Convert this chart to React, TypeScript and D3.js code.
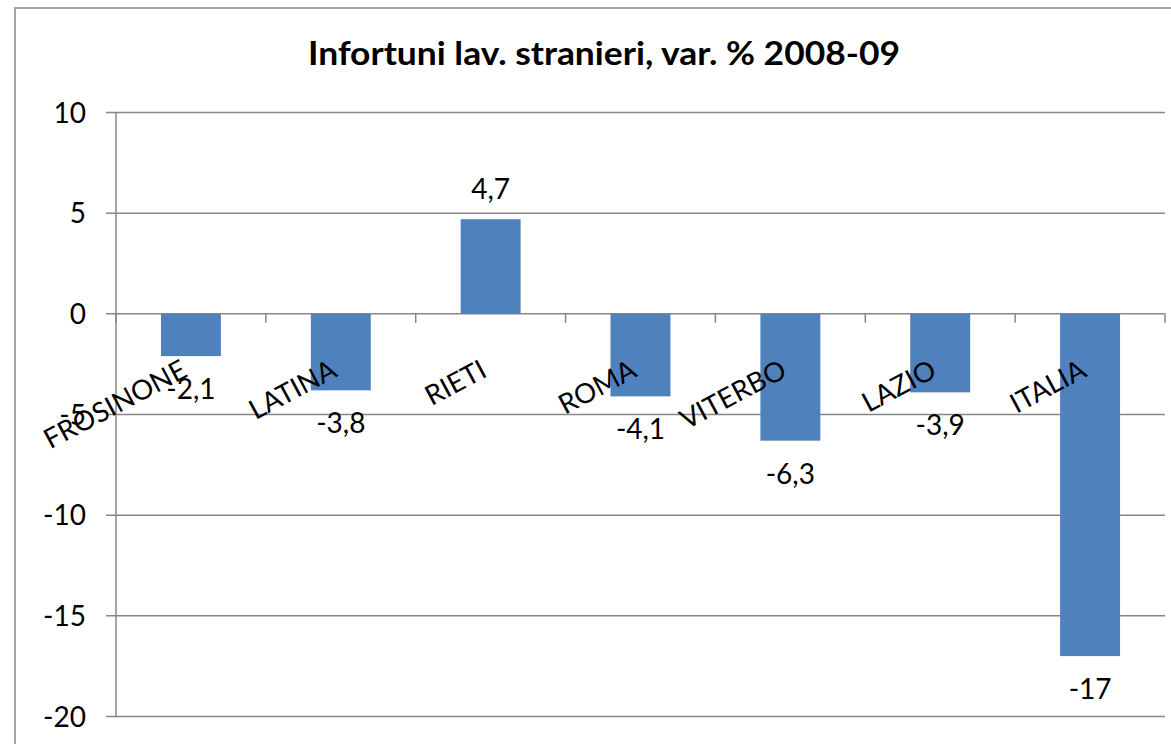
import React from "react";
import * as d3 from "d3";

const categories: string[] = ["FROSINONE", "LATINA", "RIETI", "ROMA", "VITERBO", "LAZIO", "ITALIA"];
const values: number[] = [-2.1, -3.8, 4.7, -4.1, -6.3, -3.9, -17];
const yTicks: number[] = [10, 5, 0, -5, -10, -15, -20];
const title = "Infortuni lav. stranieri, var. % 2008-09";

const W = 1171;
const H = 744;
const FONT = "Lato, 'Open Sans', sans-serif";
const GRID = "#878787";
const BAR = "#4F81BD";

export default function App() {
  const left = 116;
  const right = 1165;
  const y = d3.scaleLinear().domain([-20, 10]).range([716.5, 112.5]);
  const x = d3
    .scaleBand<string>()
    .domain(categories)
    .range([left, right])
    .paddingInner(0.6)
    .paddingOuter(0.3);
  const step = x.step();
  const y0 = y(0);
  const fmt = (v: number) => String(v).replace(".", ",");

  return (
    <svg
      width={W}
      height={H}
      style={{ position: "absolute", left: 0, top: 0, background: "#fff" }}
      fontFamily={FONT}
    >
      <rect x={15} y={8} width={1200} height={800} fill="#fff" stroke={GRID} strokeWidth={1.5} />
      <text
        x={604}
        y={65}
        textAnchor="middle"
        fontSize={33}
        fontWeight="bold"
        fill="#000"
        textLength={592}
        lengthAdjust="spacingAndGlyphs"
      >
        {title}
      </text>
      {/* gridlines + y tick marks */}
      {yTicks.map((t) => (
        <line key={"g" + t} x1={106} x2={right} y1={y(t)} y2={y(t)} stroke={GRID} strokeWidth={1.5} />
      ))}
      {/* y axis */}
      <line x1={left} x2={left} y1={y(10)} y2={y(-20)} stroke={GRID} strokeWidth={1.5} />
      {/* category tick marks */}
      {d3.range(categories.length + 1).map((i) => (
        <line
          key={"c" + i}
          x1={left + i * step}
          x2={left + i * step}
          y1={y0}
          y2={y0 + 9}
          stroke={GRID}
          strokeWidth={1.5}
        />
      ))}
      {/* y tick labels */}
      {yTicks.map((t) => (
        <text key={"t" + t} x={86} y={y(t)} dy="0.36em" textAnchor="end" fontSize={28} fill="#000">
          {t}
        </text>
      ))}
      {/* bars */}
      {categories.map((c, i) => {
        const v = values[i];
        const top = Math.min(y(v), y0);
        const h = Math.abs(y(v) - y0);
        return <rect key={"b" + c} x={x(c)} y={top} width={x.bandwidth()} height={h} fill={BAR} />;
      })}
      {/* category labels */}
      {categories.map((c) => {
        const cx = (x(c) as number) + x.bandwidth() / 2;
        return (
          <text
            key={"l" + c}
            transform={`translate(${cx - 2},${y0 + 62}) rotate(-28)`}
            textAnchor="end"
            fontSize={27.5}
            fill="#000"
          >
            {c}
          </text>
        );
      })}
      {/* data labels */}
      {categories.map((c, i) => {
        const v = values[i];
        const cx = (x(c) as number) + x.bandwidth() / 2;
        const yy = v >= 0 ? y(v) - 20 : y(v) + 43;
        return (
          <text key={"d" + c} x={cx} y={yy} textAnchor="middle" fontSize={28} fill="#000">
            {fmt(v)}
          </text>
        );
      })}
    </svg>
  );
}
